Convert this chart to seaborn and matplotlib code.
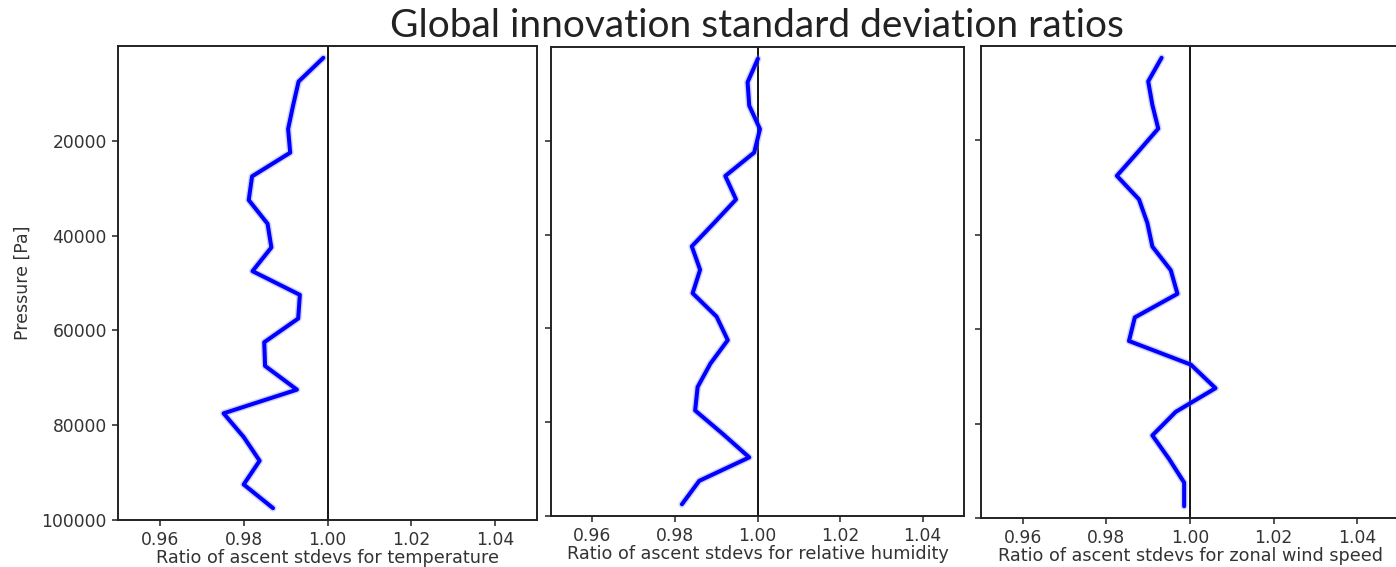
import numpy as np
import pandas as pd
import matplotlib
matplotlib.use("Agg")
import matplotlib.pyplot as plt
import seaborn as sns

# ---- data ----
pressure = [2500, 7500, 12500, 17500, 22500, 27500, 32500, 37500, 42500, 47500,
            52500, 57500, 62500, 67500, 72500, 77500, 82500, 87500, 92500, 97500]

ratio_temperature = [0.9990, 0.9931, 0.9918, 0.9906, 0.9911, 0.9820, 0.9812, 0.9857, 0.9866, 0.9821,
                     0.9934, 0.9930, 0.9849, 0.9851, 0.9927, 0.9752, 0.9800, 0.9838, 0.9800, 0.9870]

ratio_humidity = [1.0001, 0.9976, 0.9980, 1.0006, 0.9992, 0.9922, 0.9948, 0.9895, 0.9841, 0.9861,
                  0.9843, 0.9901, 0.9928, 0.9886, 0.9855, 0.9849, 0.9916, 0.9980, 0.9859, 0.9817]

ratio_wind = [0.9932, 0.9900, 0.9910, 0.9924, 0.9875, 0.9825, 0.9878, 0.9898, 0.9910, 0.9954,
              0.9970, 0.9868, 0.9854, 1.0002, 1.0061, 0.9966, 0.9910, 0.9950, 0.9986, 0.9986]

xlabels = ["Ratio of ascent stdevs for temperature",
           "Ratio of ascent stdevs for relative humidity",
           "Ratio of ascent stdevs for zonal wind speed"]
xticks = [0.96, 0.98, 1.00, 1.02, 1.04]
yticks = [20000, 40000, 60000, 80000, 100000]
title = "Global innovation standard deviation ratios"

# ---- style ----
sns.set_style("ticks")
plt.rcParams["font.family"] = ["DejaVu Sans"]

W, H = 1396, 567
fig = plt.figure(figsize=(W / 100, H / 100), dpi=100)

# panel boxes in pixels: left, top, right, bottom
boxes = [(118, 46, 537, 520), (551, 47, 964, 516), (981, 46, 1399, 518)]
series = [ratio_temperature, ratio_humidity, ratio_wind]

for i, ((l, t, r, b), vals, xl) in enumerate(zip(boxes, series, xlabels)):
    ax = fig.add_axes([l / W, (H - b) / H, (r - l) / W, (b - t) / H])
    df = pd.DataFrame({"pressure": pressure, "ratio": vals})
    # soft halo under the line
    sns.lineplot(data=df, x="ratio", y="pressure", orient="y", sort=False,
                 estimator=None, color="#7f7fff", lw=5.0, alpha=0.35, ax=ax)
    sns.lineplot(data=df, x="ratio", y="pressure", orient="y", sort=False,
                 estimator=None, color="#0000ff", lw=2.9, ax=ax)
    ax.axvline(1.0, color="black", lw=1.3, zorder=1)
    ax.set_xlim(0.95, 1.05)
    ax.set_ylim(100000, 0)
    ax.set_xticks(xticks)
    ax.set_xticklabels([f"{v:.2f}" for v in xticks], fontsize=12.3, color="#333333")
    ax.set_yticks(yticks)
    if i == 0:
        ax.set_yticklabels([str(v) for v in yticks], fontsize=12.3, color="#333333")
        ax.set_ylabel("Pressure [Pa]", fontsize=12.5, color="#333333", labelpad=7)
    else:
        ax.set_yticklabels([])
        ax.set_ylabel("")
    ax.set_xlabel(xl, fontsize=12.7, color="#333333", labelpad=0)
    ax.tick_params(axis="both", direction="out", length=4, width=1.2, color="#333333", pad=4)
    for s in ax.spines.values():
        s.set_visible(True)
        s.set_color("#222222")
        s.set_linewidth(1.4)

fig.text(757 / W, 1 - 26 / H, title, ha="center", va="center",
         fontsize=28, family=["Lato", "DejaVu Sans"], color="#222222")

fig.savefig("out.png", dpi=100, facecolor="white")
